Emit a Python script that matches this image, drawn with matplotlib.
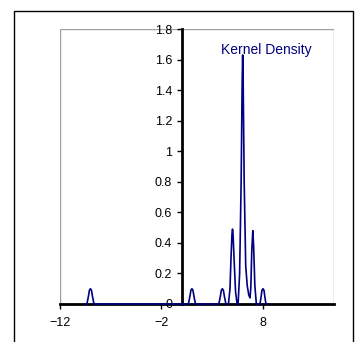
import matplotlib
matplotlib.use("Agg")
import matplotlib.pyplot as plt
from matplotlib.patches import Rectangle

plt.rcParams['font.family'] = ['Liberation Sans', 'DejaVu Sans']

# density curve vertices
density_x = [-9.5, -9.35, -9.2, -9.1, -9.0, -8.9, -8.8, -8.65,
             0.65, 0.8, 0.9, 1.0, 1.1, 1.2, 1.35,
             3.65, 3.8, 3.9, 4.0, 4.1, 4.2, 4.35,
             4.6, 4.75, 4.85, 4.95, 5.0, 5.05, 5.15, 5.3, 5.45,
             5.55, 5.7, 5.85, 5.95, 6.0, 6.05, 6.15, 6.3, 6.45, 6.6, 6.72,
             6.8, 6.9, 7.0, 7.08, 7.2, 7.35,
             7.7, 7.8, 7.9, 8.0, 8.1, 8.2, 8.3, 8.5]
density_y = [0, 0, 0.05, 0.09, 0.1, 0.09, 0.05, 0,
             0, 0.05, 0.09, 0.1, 0.09, 0.05, 0,
             0, 0.05, 0.09, 0.1, 0.09, 0.05, 0,
             0, 0.1, 0.3, 0.46, 0.49, 0.46, 0.3, 0.08, 0,
             0, 0.2, 0.8, 1.45, 1.63, 1.45, 0.8, 0.25, 0.12, 0.06, 0.04,
             0.1, 0.35, 0.48, 0.38, 0.12, 0,
             0, 0.04, 0.09, 0.1, 0.09, 0.04, 0, 0]

x_ticks = [-12, -2, 8]
y_ticks = [0, 0.2, 0.4, 0.6, 0.8, 1, 1.2, 1.4, 1.6, 1.8]
y_labels = ['0', '0.2', '0.4', '0.6', '0.8', '1', '1.2', '1.4', '1.6', '1.8']

navy = '#000080'

fig = plt.figure(figsize=(3.59, 3.42), dpi=100)
# outer chart border
fig.patches.append(Rectangle((14 / 359, -0.05), 339 / 359, 1 - 10.5 / 342 + 0.05,
                             transform=fig.transFigure, fill=False,
                             edgecolor='black', lw=1))

ax = fig.add_axes([60 / 359, 1 - 304 / 342, 274 / 359, 275 / 342])
ax.plot(density_x, density_y, color=navy, lw=1.2, zorder=5, clip_on=False)

ax.set_xlim(-12, 15)
ax.set_ylim(0, 1.8)
ax.set_xticks(x_ticks)
ax.set_yticks(y_ticks)
ax.set_yticklabels(y_labels)

# gray plot-area frame
ax.add_patch(Rectangle((0, 0), 1, 1, transform=ax.transAxes, fill=False,
                       edgecolor='#a0a0a0', lw=1, zorder=0))
ax.spines['top'].set_visible(False)
ax.spines['right'].set_visible(False)
ax.spines['left'].set_position(('data', 0))
ax.spines['left'].set_linewidth(2)
ax.spines['bottom'].set_linewidth(2)
ax.spines['left'].set_zorder(2)
ax.spines['bottom'].set_zorder(4)

ax.tick_params(axis='both', labelsize=9, direction='out', length=3.5, width=1)
ax.tick_params(axis='y', pad=3.5)
ax.tick_params(axis='x', pad=6)

ax.text(3.9, 1.66, 'Kernel Density', color=navy, fontsize=10, va='center', ha='left')

fig.savefig('out.png', dpi=100)
